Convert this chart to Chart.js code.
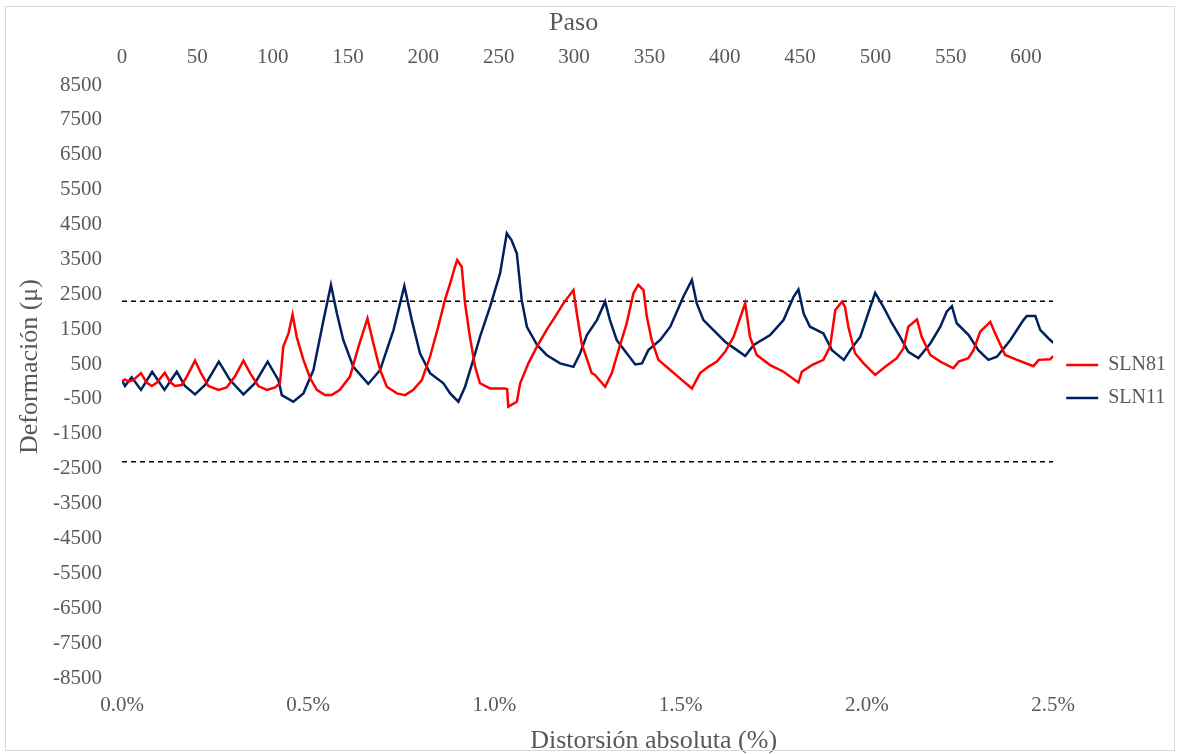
<!DOCTYPE html>
<html>
<head>
<meta charset="utf-8">
<script src="https://cdn.jsdelivr.net/npm/chart.js@4.4.1/dist/chart.umd.min.js"></script>
<style>
  body { margin: 0; background: #fff; }
  #wrap { position: relative; width: 1179px; height: 754px; }
  #frame { position: absolute; left: 5px; top: 6px; width: 1168px; height: 743px; border: 1px solid #d9d9d9; pointer-events: none; }
</style>
</head>
<body>
<div id="wrap">
  <canvas id="chart" width="1179" height="754"></canvas>
  <div id="frame"></div>
</div>
<script>
// distorsion absoluta (%) and deformacion
const sln81X = [0.000,0.008,0.017,0.030,0.051,0.066,0.080,0.093,0.115,0.129,
  0.142,0.160,0.174,0.196,0.212,0.232,0.259,0.281,0.303,0.326,
  0.344,0.366,0.389,0.411,0.424,0.433,0.447,0.458,0.469,0.487,
  0.505,0.523,0.545,0.563,0.585,0.612,0.635,0.659,0.675,0.693,
  0.711,0.738,0.760,0.782,0.805,0.827,0.849,0.867,0.881,0.894,
  0.900,0.912,0.921,0.934,0.948,0.961,0.988,1.028,1.034,1.037,
  1.060,1.069,1.091,1.114,1.140,1.163,1.185,1.212,1.221,1.234,
  1.261,1.270,1.297,1.315,1.333,1.355,1.373,1.386,1.400,1.409,
  1.422,1.440,1.472,1.498,1.530,1.552,1.574,1.597,1.619,1.642,
  1.673,1.686,1.704,1.740,1.776,1.816,1.825,1.852,1.883,1.901,
  1.915,1.933,1.941,1.950,1.968,1.991,2.022,2.049,2.080,2.098,
  2.111,2.134,2.147,2.170,2.197,2.232,2.246,2.272,2.286,2.304,
  2.331,2.344,2.371,2.403,2.447,2.461,2.492,2.500];
const sln81Y = [10,60,0,40,240,-30,-130,-40,250,-10,
  -130,-100,140,600,240,-130,-240,-170,140,600,
  240,-130,-240,-170,-50,1000,1380,1920,1280,620,
  100,-240,-390,-390,-240,140,1000,1810,1090,330,
  -150,-340,-390,-240,40,710,1570,2340,2810,3290,
  3480,3290,2240,1280,420,-50,-200,-200,-220,-720,
  -580,-50,520,1000,1480,1860,2240,2620,1950,1090,
  240,190,-150,240,900,1670,2530,2770,2620,1860,
  1190,620,330,90,-200,240,420,570,850,1280,
  2240,1280,760,470,280,-30,280,470,620,1000,
  2050,2290,2140,1570,810,520,190,420,670,950,
  1570,1780,1280,760,570,380,570,670,900,1430,
  1710,1380,760,620,440,620,640,730];

const sln11X = [0.001,0.008,0.026,0.051,0.081,0.114,0.147,0.169,0.196,0.223,
  0.260,0.290,0.326,0.357,0.391,0.420,0.429,0.460,0.487,0.514,
  0.541,0.561,0.577,0.594,0.621,0.661,0.693,0.729,0.758,0.778,
  0.800,0.827,0.863,0.881,0.903,0.921,0.943,0.961,0.988,1.015,
  1.033,1.046,1.060,1.073,1.087,1.114,1.140,1.176,1.212,1.230,
  1.248,1.275,1.297,1.310,1.328,1.355,1.378,1.396,1.413,1.445,
  1.472,1.507,1.530,1.543,1.561,1.592,1.619,1.651,1.673,1.696,
  1.740,1.776,1.803,1.816,1.830,1.847,1.883,1.906,1.938,1.955,
  1.982,2.009,2.022,2.044,2.067,2.089,2.111,2.138,2.170,2.197,
  2.214,2.228,2.241,2.273,2.299,2.326,2.349,2.385,2.420,2.429,
  2.452,2.465,2.487,2.500];
const sln11Y = [10,-130,120,-240,280,-240,280,-130,-370,-100,
  570,40,-370,-50,570,40,-390,-580,-340,330,
  1760,2770,1950,1190,420,-70,330,1480,2740,1760,
  810,240,-50,-340,-580,-150,620,1280,2140,3100,
  4250,4050,3670,2340,1570,1050,760,520,420,810,
  1330,1760,2290,1760,1190,810,490,520,900,1190,
  1570,2430,2910,2240,1760,1430,1140,900,730,1050,
  1330,1760,2430,2640,1950,1570,1380,900,620,900,
  1280,2140,2540,2140,1670,1280,850,670,1090,1570,
  2000,2160,1670,1330,900,620,710,1190,1760,1880,
  1880,1480,1240,1110];

// dashed limit lines
const limitX = [0, 2.5];
const limitUp = 2300;
const limitDown = -2300;

const serif = '"Liberation Serif", "Times New Roman", serif';
const grey = '#595959';

function toPoints(xs, ys) {
    return xs.map((x, i) => ({ x: x, y: ys[i] }));
}

// axis titles, placed where the original has them (not centred on the plot)
const axisTitles = {
    id: 'axisTitles',
    afterDraw(chart) {
        const ctx = chart.ctx;
        const area = chart.chartArea;
        const midX = (area.left + area.right) / 2;
        const midY = (area.top + area.bottom) / 2;
        ctx.save();
        ctx.fillStyle = grey;
        ctx.font = '26px ' + serif;
        ctx.textAlign = 'center';
        ctx.textBaseline = 'middle';
        ctx.fillText('Paso', midX - 14, 23);
        ctx.fillText('Distorsión absoluta (%)', midX + 66, chart.height - 13);
        ctx.translate(30, midY - 15);
        ctx.rotate(-Math.PI / 2);
        ctx.fillText('Deformación (μ)', 0, 0);
        ctx.restore();
    }
};

new Chart(document.getElementById('chart'), {
    type: 'line',
    data: {
        datasets: [
            { label: 'SLN81', data: toPoints(sln81X, sln81Y), borderColor: '#ff0000', borderWidth: 2.5, pointRadius: 0 },
            { label: 'SLN11', data: toPoints(sln11X, sln11Y), borderColor: '#002060', borderWidth: 2.5, pointRadius: 0 },
            { label: 'lim1', data: limitX.map(x => ({ x: x, y: limitUp })), borderColor: '#000', borderWidth: 1.5, borderDash: [5, 4], pointRadius: 0 },
            { label: 'lim2', data: limitX.map(x => ({ x: x, y: limitDown })), borderColor: '#000', borderWidth: 1.5, borderDash: [5, 4], pointRadius: 0 }
        ]
    },
    options: {
        responsive: false,
        animation: false,
        devicePixelRatio: 1,
        layout: { padding: { left: 0, right: 3, top: 0, bottom: 0 } },
        plugins: {
            tooltip: { enabled: false },
            legend: {
                position: 'right',
                fullSize: false,
                labels: {
                    filter: item => item.datasetIndex < 2,
                    usePointStyle: true,
                    pointStyle: 'line',
                    pointStyleWidth: 32,
                    boxHeight: 20,
                    padding: 13,
                    color: grey,
                    font: { family: serif, size: 20 }
                }
            }
        },
        scales: {
            x: {
                type: 'linear',
                position: 'bottom',
                min: 0,
                max: 2.5,
                grid: { display: false, drawTicks: false },
                border: { display: false },
                ticks: {
                    stepSize: 0.5,
                    padding: 15,
                    color: grey,
                    font: { family: serif, size: 21 },
                    callback: v => v.toFixed(1) + '%'
                },
                afterFit: s => { s.height = 76; }
            },
            x2: {
                type: 'linear',
                position: 'top',
                min: 0,
                max: 618,
                grid: { display: false, drawTicks: false },
                border: { display: false },
                ticks: {
                    stepSize: 50,
                    includeBounds: false,
                    autoSkip: false,
                    maxRotation: 0,
                    padding: 15,
                    color: grey,
                    font: { family: serif, size: 21 },
                    callback: v => String(v)
                },
                afterFit: s => { s.height = 85; }
            },
            y: {
                min: -8500,
                max: 8500,
                grid: { display: false, drawTicks: false },
                border: { display: false },
                ticks: {
                    stepSize: 1000,
                    padding: 20,
                    color: grey,
                    font: { family: serif, size: 21 },
                    callback: v => String(v)
                },
                afterFit: s => { s.width = 122; }
            }
        }
    },
    plugins: [axisTitles]
});
</script>
</body>
</html>
